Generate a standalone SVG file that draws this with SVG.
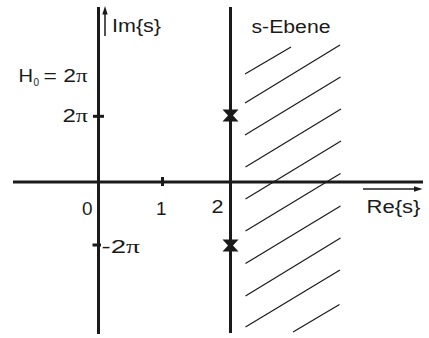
<svg xmlns="http://www.w3.org/2000/svg" width="429" height="338" viewBox="0 0 429 338">
<style>
.ax{stroke:#1a1a1a;stroke-width:3;fill:none}
.tk{stroke:#1a1a1a;stroke-width:3}
.th{stroke:#1a1a1a;stroke-width:1.5}
.h{stroke:#1a1a1a;stroke-width:1.2}
text{font-family:"Liberation Sans",Arial,sans-serif;font-size:18px;fill:#1a1a1a}
.pi{font-family:"Liberation Serif","Times New Roman",serif}
.pole{fill:#1a1a1a}
</style>
<rect width="429" height="338" fill="#fff"/>
<g id="hatch">
<line class="h" x1="245" y1="74" x2="291" y2="47"/>
<line class="h" x1="245" y1="103" x2="340" y2="45"/>
<line class="h" x1="245" y1="135" x2="340.5" y2="77"/>
<line class="h" x1="245.5" y1="167" x2="341" y2="109"/>
<line class="h" x1="245.5" y1="199" x2="341" y2="141"/>
<line class="h" x1="245.5" y1="231" x2="340.5" y2="173.5"/>
<line class="h" x1="245.5" y1="263.5" x2="340.5" y2="206"/>
<line class="h" x1="245.5" y1="296" x2="340.5" y2="238"/>
<line class="h" x1="245.5" y1="327" x2="340" y2="270"/>
<line class="h" x1="293" y1="332" x2="339.5" y2="304.5"/>
</g>
<g id="axes">
<line class="ax" x1="98.5" y1="7" x2="98.5" y2="334"/>
<line class="ax" x1="13" y1="182" x2="423" y2="182"/>
<line class="ax" x1="230.5" y1="7" x2="230.5" y2="333"/>
<line class="tk" x1="93" y1="116.3" x2="104" y2="116.3"/>
<line class="tk" x1="92.5" y1="245" x2="101" y2="245"/>
<line class="tk" x1="162.5" y1="177" x2="162.5" y2="186"/>
<line class="tk" x1="230.5" y1="177" x2="230.5" y2="186.5" stroke-width="4"/>
</g>
<g id="arrows">
<line class="th" x1="105" y1="36" x2="105" y2="13"/>
<polygon points="105,6 102.3,14.5 107.7,14.5" fill="#1a1a1a"/>
<line class="th" x1="363" y1="189" x2="415" y2="189"/>
<polygon points="422.5,189 414,186.3 414,191.7" fill="#1a1a1a"/>
</g>
<g id="poles">
<path class="pole" d="M222.5,109.5 L238.5,109.5 L233,115.5 L238.5,121.5 L222.5,121.5 L228,115.5 Z"/>
<path class="pole" d="M222.5,239.5 L238.5,239.5 L233,245.5 L238.5,251.5 L222.5,251.5 L228,245.5 Z"/>
</g>
<g id="labels">
<text x="112" y="31.5" textLength="49" lengthAdjust="spacingAndGlyphs">Im{s}</text>
<text x="251.5" y="33" textLength="79" lengthAdjust="spacingAndGlyphs">s-Ebene</text>
<text x="18.5" y="81.5" textLength="14.5" lengthAdjust="spacingAndGlyphs">H</text>
<text x="33.5" y="86" style="font-size:10px">0</text>
<text x="43.5" y="81.5" textLength="44" lengthAdjust="spacingAndGlyphs">= 2<tspan class="pi">π</tspan></text>
<text x="62.5" y="121.5" textLength="25.5" lengthAdjust="spacingAndGlyphs">2<tspan class="pi">π</tspan></text>
<text x="101.5" y="252.5" textLength="38.5" lengthAdjust="spacingAndGlyphs">-2<tspan class="pi">π</tspan></text>
<text x="82" y="214.5" textLength="10.5" lengthAdjust="spacingAndGlyphs">0</text>
<text x="156" y="214.5" textLength="10.5" lengthAdjust="spacingAndGlyphs">1</text>
<text x="211.5" y="213" textLength="12" lengthAdjust="spacingAndGlyphs">2</text>
<text x="366.5" y="213" textLength="54" lengthAdjust="spacingAndGlyphs">Re{s}</text>
</g>
</svg>
